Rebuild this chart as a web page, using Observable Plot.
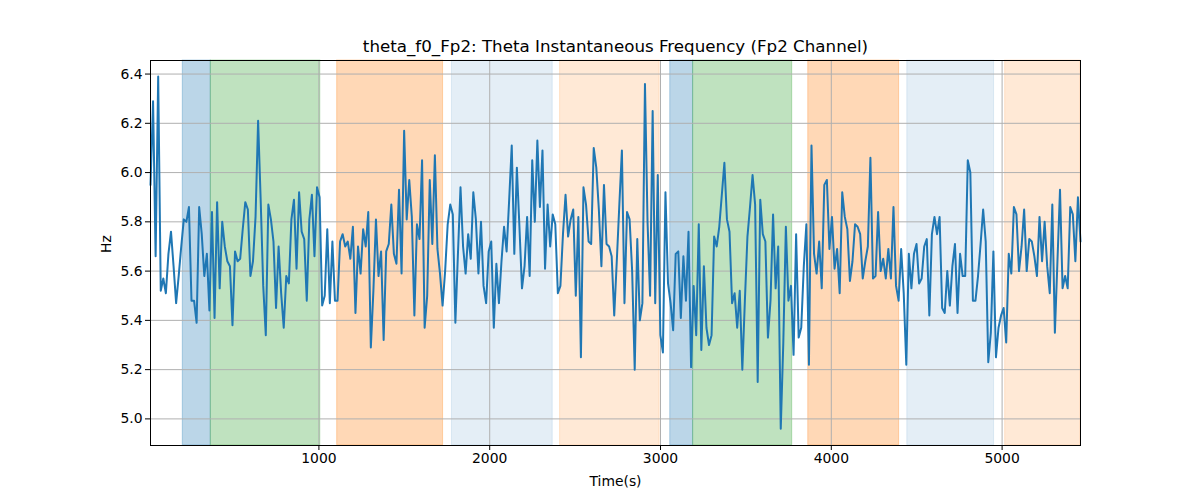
<!DOCTYPE html>
<html><head><meta charset="utf-8">
<script src="https://cdn.jsdelivr.net/npm/d3@7"></script>
<script src="https://cdn.jsdelivr.net/npm/@observablehq/plot@0.6"></script>
<style>
body{margin:0;background:#fff}
svg{font-family:"DejaVu Sans",sans-serif}
</style>
</head><body><div id="chart"></div>
<script>
const titleText = "theta_f0_Fp2: Theta Instantaneous Frequency (Fp2 Channel)";
const xLabel = "Time(s)";
const yLabel = "Hz";
const t0 = 14, dt = 15;
const hz = [
5.95,
6.29,5.66,6.39,5.52,5.57,5.51,5.67,5.76,5.62,5.47,5.58,5.70,5.81,5.80,5.86,5.48,5.48,5.39,5.86,5.75,5.58,5.67,5.44,5.84,5.41,5.88,5.53,5.80,5.70,5.64,5.62,5.38,5.68,5.64,5.65,5.77,5.88,5.85,5.58,5.64,5.82,6.21,5.89,5.54,5.34,
5.87,5.81,5.72,5.45,5.70,5.51,5.37,5.58,5.55,5.81,5.89,5.61,5.92,5.76,5.73,5.48,5.81,5.91,5.66,5.94,5.90,5.46,5.50,5.77,5.47,5.72,5.48,5.48,5.72,5.75,5.70,5.72,5.65,5.78,5.43,5.70,5.59,5.77,5.70,5.84,5.29,5.52,5.81,5.58,5.68,5.32,
5.68,5.71,5.87,5.67,5.63,5.93,5.59,6.17,5.81,5.97,5.82,5.42,5.79,5.73,6.05,5.37,5.50,5.97,5.71,6.07,5.69,5.59,5.46,5.60,5.79,5.87,5.83,5.39,5.67,5.94,5.70,5.59,5.75,5.65,5.92,5.81,5.59,5.80,5.54,5.47,5.68,5.72,5.37,5.63,5.47,5.64,
5.78,5.68,5.89,6.11,5.67,6.02,5.78,5.53,5.62,5.82,5.58,6.05,5.80,6.13,5.86,6.09,5.61,5.87,5.70,5.83,5.79,5.51,5.54,5.75,5.91,5.74,5.81,5.85,5.50,5.82,5.25,5.94,5.87,5.72,5.71,6.10,6.02,5.85,5.62,5.95,5.71,5.70,5.66,5.42,5.64,
5.87,6.09,5.47,5.84,5.81,5.60,5.20,5.73,5.40,5.47,6.36,5.80,5.50,6.25,5.47,5.99,5.34,5.27,5.92,5.55,5.47,5.36,5.67,5.68,5.41,5.66,5.48,5.76,5.21,5.54,5.34,5.79,5.28,5.62,5.37,5.30,5.34,5.74,5.70,5.78,5.91,6.04,5.81,5.76,5.47,
5.51,5.37,5.52,5.20,5.48,5.74,5.86,5.99,5.87,5.15,5.89,5.75,5.72,5.33,5.48,5.83,5.53,5.70,4.96,5.31,5.78,5.48,5.54,5.26,5.75,5.33,5.37,5.62,5.79,5.22,6.11,5.67,5.59,5.72,5.53,5.95,5.97,5.69,5.82,5.61,5.69,5.51,5.92,5.82,5.77,5.56,
5.64,5.79,5.78,5.75,5.57,5.64,5.70,6.06,5.57,5.58,5.84,5.60,5.65,5.57,5.69,5.57,5.86,5.54,5.48,5.69,5.51,5.22,5.67,5.53,5.67,5.71,5.55,5.57,5.70,5.73,5.42,5.75,5.82,5.75,5.82,5.45,5.43,5.60,5.46,5.62,5.71,5.43,5.67,5.58,5.58,
6.05,6.00,5.48,5.48,5.58,5.71,5.85,5.72,5.23,5.35,5.68,5.25,5.37,5.42,5.45,5.31,5.67,5.59,5.86,5.83,5.60,5.70,5.85,5.60,5.73,5.72,5.66,5.58,5.82,5.64,5.80,5.62,5.51,5.87,5.35,5.64,5.93,5.53,5.58,5.53,5.86,5.83,5.64,5.90,5.72
];
const spanStart = [203, 367, 1107, 1779, 2412, 3057, 3191, 3865, 4445, 5018];
const spanEnd   = [367, 1008, 1727, 2369, 2995, 3191, 3771, 4397, 4953, 5470];
const spanKind  = ["blue","green","orange","lightblue","lightorange","blue","green","orange","lightblue","lightorange"];
const kindColor = {blue:"#1f77b4", green:"#2ca02c", orange:"#ff7f0e", lightblue:"#1f77b4", lightorange:"#ff7f0e"};
const kindAlpha = {blue:0.3, green:0.3, orange:0.3, lightblue:0.12, lightorange:0.17};
const xTicks = [1000, 2000, 3000, 4000, 5000];
const yTicks = [5.0, 5.2, 5.4, 5.6, 5.8, 6.0, 6.2, 6.4];

const series = hz.map((v, i) => ({t: t0 + i * dt, v}));
const spans = spanStart.map((s, i) => ({x1: s, x2: spanEnd[i], kind: spanKind[i]}));
const tEnd = t0 + (hz.length - 1) * dt;

const spanMarks = Object.keys(kindColor).map(k =>
  Plot.rect(spans.filter(d => d.kind === k).map(d => ({...d, x2: Math.min(d.x2, tEnd)})), {
    x1: "x1", x2: "x2",
    fill: kindColor[k], fillOpacity: kindAlpha[k],
    stroke: kindColor[k], strokeOpacity: kindAlpha[k], strokeWidth: 1
  })
);

const chart = Plot.plot({
  width: 1200, height: 500,
  marginLeft: 150, marginRight: 120, marginTop: 60, marginBottom: 55,
  x: {domain: [t0, tEnd]},
  y: {domain: [4.892, 6.455]},
  style: {fontFamily: "DejaVu Sans, sans-serif", fontSize: "13.9px", color: "#000", background: "#fff"},
  marks: [
    ...spanMarks,
    Plot.gridX(xTicks, {stroke: "#b0b0b0", strokeOpacity: 1, strokeWidth: 1}),
    Plot.gridY(yTicks, {stroke: "#b0b0b0", strokeOpacity: 1, strokeWidth: 1}),
    Plot.line(series, {x: "t", y: "v", stroke: "#1f77b4", strokeWidth: 2}),
    Plot.frame({stroke: "#000", strokeWidth: 1}),
    Plot.axisX(xTicks, {tickSize: 5, tickPadding: 3, tickFormat: d3.format("d"), label: null, fontSize: 13.9}),
    Plot.axisY(yTicks, {tickSize: 5, tickPadding: 3, tickFormat: d3.format(".1f"), label: null, fontSize: 13.9}),
    Plot.text([titleText], {frameAnchor: "top", lineAnchor: "middle", dy: -14, fontSize: 16.7, text: d => d}),
    Plot.text([xLabel], {frameAnchor: "bottom", lineAnchor: "middle", dy: 36, fontSize: 13.9, text: d => d}),
    Plot.text([yLabel], {frameAnchor: "left", lineAnchor: "middle", dx: -44, rotate: -90, fontSize: 13.9, text: d => d})
  ]
});
document.getElementById("chart").appendChild(chart);
</script>
</body></html>
